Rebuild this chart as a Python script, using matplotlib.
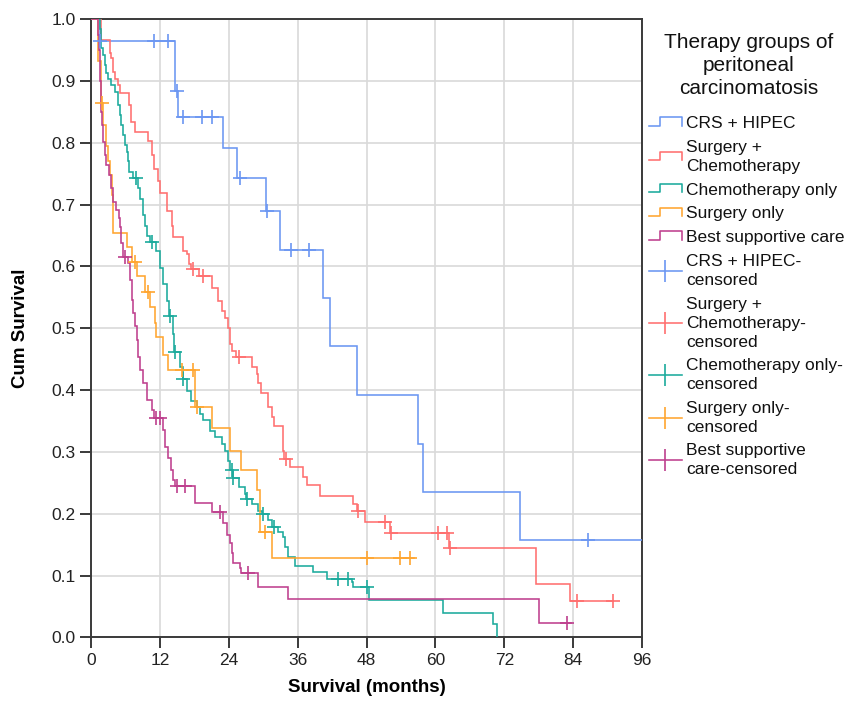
import numpy as np
import matplotlib
matplotlib.use("Agg")
import matplotlib.pyplot as plt
from matplotlib.lines import Line2D
from matplotlib.legend_handler import HandlerBase

plt.rcParams['font.family'] = ['Liberation Sans', 'DejaVu Sans']

# ---------------- data ----------------
group_names = ["CRS + HIPEC", "Surgery +\nChemotherapy", "Chemotherapy only",
               "Surgery only", "Best supportive care"]
censor_names = ["CRS + HIPEC-\ncensored", "Surgery +\nChemotherapy-\ncensored",
                "Chemotherapy only-\ncensored", "Surgery only-\ncensored",
                "Best supportive\ncare-censored"]
legend_title = "Therapy groups of\nperitoneal\ncarcinomatosis"

x_ticks = [0, 12, 24, 36, 48, 60, 72, 84, 96]
y_ticks = [0.0, 0.1, 0.2, 0.3, 0.4, 0.5, 0.6, 0.7, 0.8, 0.9, 1.0]

crs_t = [1.5, 14.6, 15.2, 23.0, 25.4, 30.5, 33.0, 40.5, 41.6, 46.3, 57.0, 57.9, 74.7]
crs_s = [0.965, 0.884, 0.842, 0.792, 0.744, 0.690, 0.627, 0.549, 0.471, 0.392, 0.313, 0.235, 0.158]
crs_c = [1.6, 11.0, 13.4, 15.0, 16.0, 19.3, 21.0, 26.0, 30.7, 34.8, 37.9, 86.6]
crs_end = 96.0

sc_t = [1.8, 3.3, 3.5, 3.8, 4.1, 4.7, 5.0, 6.7, 7.0, 7.6, 9.9, 10.6, 10.9, 11.7, 12.0,
        13.2, 14.1, 14.3, 16.1, 16.7, 17.0, 17.4, 18.8, 21.0, 22.2, 22.8, 23.3, 23.9, 24.2,
        24.6, 25.3, 28.0, 28.9, 29.1, 29.7, 30.9, 31.5, 31.8, 33.5, 33.7, 34.7, 37.0, 37.6,
        39.9, 45.7, 46.3, 47.7, 52.1, 62.3, 77.6, 83.4]
sc_s = [0.966, 0.945, 0.937, 0.915, 0.904, 0.894, 0.880, 0.861, 0.834, 0.818, 0.803, 0.781,
        0.757, 0.738, 0.719, 0.690, 0.665, 0.647, 0.625, 0.620, 0.604, 0.596, 0.584, 0.566,
        0.544, 0.528, 0.517, 0.501, 0.475, 0.464, 0.453, 0.437, 0.426, 0.412, 0.396, 0.372,
        0.356, 0.342, 0.302, 0.289, 0.275, 0.259, 0.246, 0.229, 0.216, 0.205, 0.186, 0.169,
        0.145, 0.087, 0.058]
sc_c = [17.8, 19.6, 25.8, 33.9, 46.6, 51.2, 52.3, 60.5, 62.0, 62.5, 84.6, 90.9]
sc_end = 91.0

ch_t = [1.5, 1.8, 2.1, 2.4, 2.7, 2.9, 3.5, 4.1, 4.7, 5.0, 5.3, 5.6, 5.9, 6.2, 6.4, 6.7,
        7.4, 8.2, 8.5, 9.0, 9.4, 9.8, 10.3, 11.4, 12.0, 12.6, 13.2, 13.6, 14.3, 14.5, 15.5,
        16.0, 16.7, 17.5, 18.4, 19.0, 19.6, 20.7, 21.6, 22.8, 23.3, 23.9, 24.3, 24.7, 25.7,
        26.8, 27.0, 28.0, 29.1, 29.8, 30.9, 31.5, 32.6, 33.5, 33.8, 34.4, 35.5, 38.7, 41.1,
        45.4, 45.7, 48.4, 61.4, 70.1, 70.7]
ch_s = [0.985, 0.953, 0.942, 0.926, 0.913, 0.904, 0.894, 0.883, 0.861, 0.845, 0.829, 0.813,
        0.797, 0.786, 0.770, 0.753, 0.743, 0.727, 0.710, 0.684, 0.665, 0.650, 0.640, 0.625,
        0.598, 0.571, 0.544, 0.520, 0.490, 0.462, 0.437, 0.418, 0.399, 0.383, 0.372, 0.362,
        0.351, 0.334, 0.324, 0.313, 0.302, 0.286, 0.270, 0.258, 0.243, 0.232, 0.224, 0.216,
        0.205, 0.200, 0.189, 0.178, 0.170, 0.162, 0.146, 0.130, 0.116, 0.106, 0.095, 0.089,
        0.081, 0.060, 0.039, 0.022, 0.000]
ch_c = [7.9, 10.6, 13.8, 14.6, 16.1, 24.5, 24.8, 27.1, 30.0, 31.8, 43.1, 44.8, 48.0]
ch_end = 70.7

so_t = [1.2, 1.8, 2.1, 2.6, 3.0, 3.3, 3.6, 3.8, 3.9, 6.2, 7.1, 8.0, 9.4, 10.2, 11.1, 11.4,
        12.6, 13.4, 18.1, 21.0, 24.3, 26.2, 28.9, 29.4, 31.5]
so_s = [0.932, 0.864, 0.829, 0.795, 0.770, 0.748, 0.716, 0.683, 0.654, 0.632, 0.608, 0.584,
        0.559, 0.535, 0.508, 0.486, 0.457, 0.433, 0.373, 0.338, 0.302, 0.270, 0.238, 0.171,
        0.128]
so_c = [1.9, 7.7, 10.0, 15.8, 17.8, 18.4, 30.3, 48.0, 53.8, 55.5]
so_end = 56.2

bsc_t = [1.2, 1.4, 1.5, 1.6, 1.7, 1.8, 1.9, 2.1, 2.4, 2.7, 3.1, 3.5, 3.8, 4.4, 4.8, 5.05,
         5.3, 5.6, 6.5, 6.8, 7.1, 7.4, 7.7, 7.96, 8.2, 8.5, 9.1, 9.7, 10.6, 11.0, 12.6, 12.9,
         13.5, 14.0, 14.3, 14.6, 18.1, 21.0, 23.0, 23.7, 24.2, 24.5, 24.8, 26.0, 26.2, 29.1,
         34.4, 78.1]
bsc_s = [0.975, 0.950, 0.926, 0.900, 0.872, 0.850, 0.829, 0.802, 0.780, 0.764, 0.748, 0.727,
         0.705, 0.691, 0.678, 0.664, 0.638, 0.616, 0.605, 0.578, 0.546, 0.524, 0.503, 0.481,
         0.454, 0.432, 0.411, 0.384, 0.367, 0.355, 0.335, 0.308, 0.290, 0.271, 0.254, 0.245,
         0.217, 0.203, 0.185, 0.166, 0.152, 0.136, 0.120, 0.112, 0.104, 0.082, 0.062, 0.023]
bsc_c = [5.9, 11.4, 12.0, 14.9, 16.4, 22.5, 27.4, 83.0]
bsc_end = 83.7

colors = ["#6B96F2", "#FF6F6F", "#1BAA9C", "#FFA530", "#BE3F8E"]

series = [(crs_t, crs_s, crs_c, crs_end), (sc_t, sc_s, sc_c, sc_end),
          (ch_t, ch_s, ch_c, ch_end), (so_t, so_s, so_c, so_end),
          (bsc_t, bsc_s, bsc_c, bsc_end)]

# ---------------- figure ----------------
fig = plt.figure(figsize=(8.62, 7.12), dpi=100)
ax = fig.add_axes([91 / 862, 1 - 637.3 / 712, 551 / 862, 618 / 712])

LW = 1.15
for (t, s, c, end), col in zip(series, colors):
    tt = np.concatenate([[0.0], t, [end]])
    ss = np.concatenate([[1.0], s, [s[-1]]])
    ax.step(tt, ss, where='post', color=col, lw=LW, zorder=3, solid_joinstyle='miter')
    cc = np.asarray(c)
    idx = np.searchsorted(tt, cc, side='right') - 1
    ax.plot(cc, ss[idx], linestyle='none', marker='+', markersize=10, mew=1.2,
            color=col, zorder=4)

ax.set_xlim(0, 96)
ax.set_ylim(0, 1.0)
ax.set_xticks(x_ticks)
ax.set_yticks(y_ticks)
ax.set_yticklabels([f"{v:.1f}" for v in y_ticks])
ax.grid(True, color="#D9D9D9", lw=1.2, zorder=0)
ax.set_axisbelow(True)
for sp in ax.spines.values():
    sp.set_color("#3A3A3A")
    sp.set_linewidth(1.4)
ax.tick_params(axis='both', direction='out', length=8, width=1.4, color="#3A3A3A",
               labelsize=12.5, labelcolor="#222222", pad=3)

ax.set_xlabel("Survival (months)", fontsize=13.5, fontweight='bold')
ax.set_ylabel("Cum Survival", fontsize=13.5, fontweight='bold')
ax.xaxis.set_label_coords(0.5, -0.068)
ax.yaxis.set_label_coords(-0.112, 0.5)


class StepHandler(HandlerBase):
    def create_artists(self, legend, orig_handle, xdescent, ydescent, width, height,
                       fontsize, trans):
        x = np.array([0.0, 0.32, 0.32, 1.0, 1.0]) * width - xdescent
        y = np.array([0.2, 0.2, 0.9, 0.9, 0.2]) * height - ydescent
        ln = Line2D(x, y, color=orig_handle.get_color(), lw=LW, transform=trans)
        return [ln]


step_handles = [Line2D([], [], color=c, lw=LW) for c in colors]
cens_handles = [Line2D([], [], color=c, lw=LW, marker='|', markersize=16, mew=1.2)
                for c in colors]
handles = step_handles + cens_handles
labels = group_names + censor_names
hmap = {h: StepHandler() for h in step_handles}

# legend title drawn as centered figure text
fig.text(749 / 862, 1 - 33 / 712, legend_title, ha='center', va='top', fontsize=15,
         linespacing=1.28, color="#111111")

leg = fig.legend(handles, labels, handler_map=hmap, loc='upper left',
                 bbox_to_anchor=(649 / 862, 1 - 116 / 712), frameon=False,
                 fontsize=12.5, handlelength=1.9, handletextpad=0.25,
                 labelspacing=0.5, borderaxespad=0, borderpad=0)
for txt in leg.get_texts():
    txt.set_linespacing(1.33)
    txt.set_color("#111111")

fig.savefig("out.png", dpi=100)
